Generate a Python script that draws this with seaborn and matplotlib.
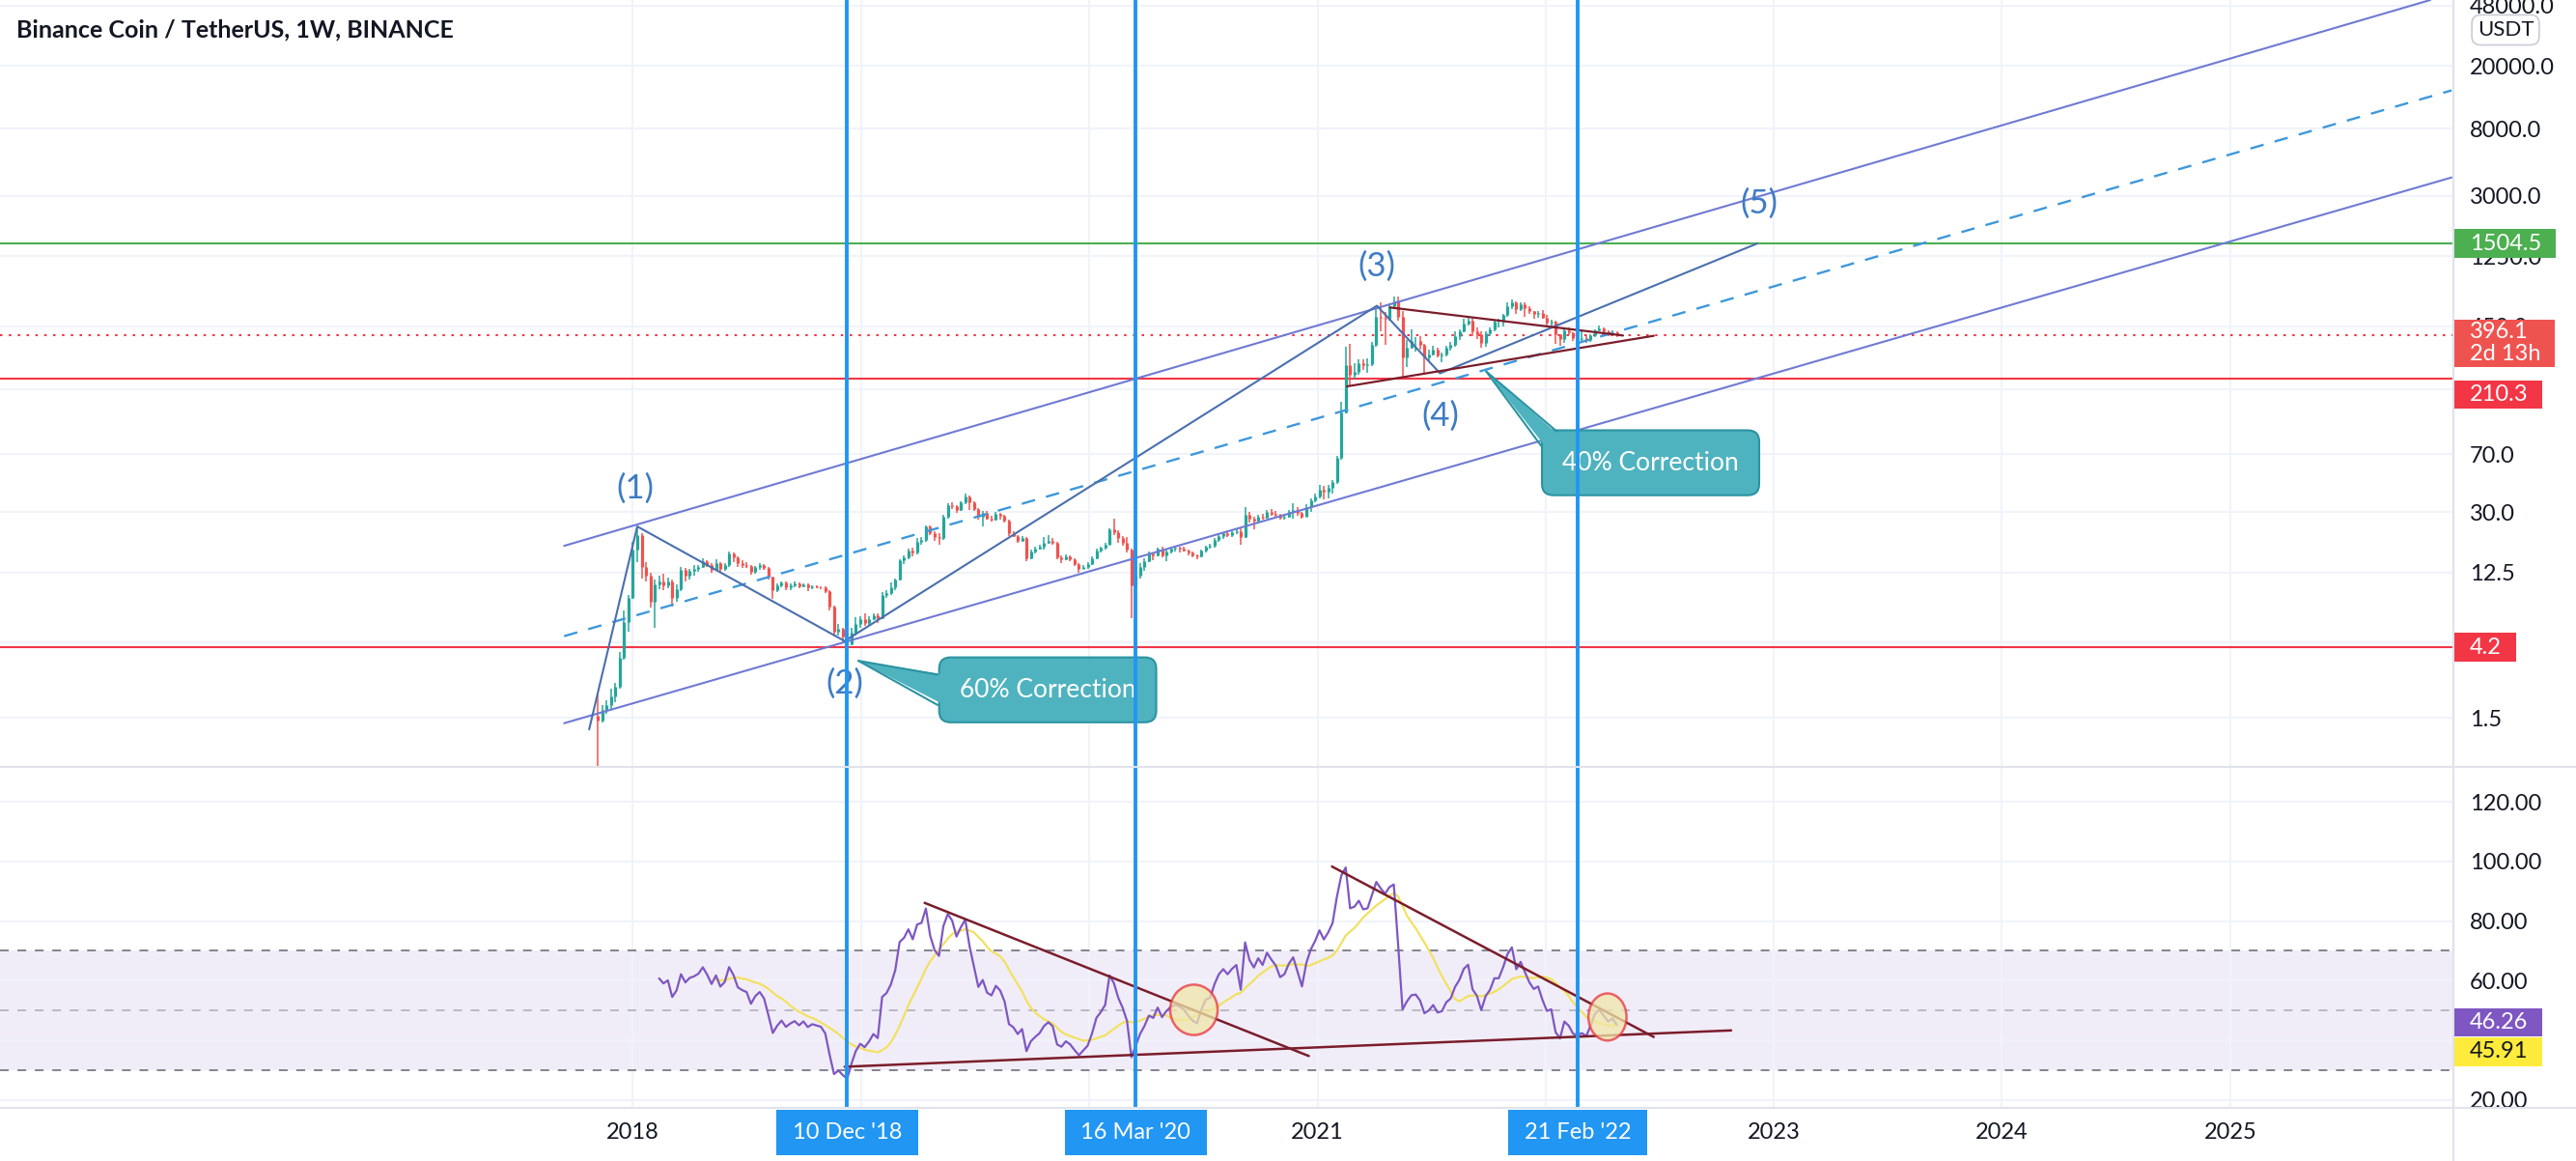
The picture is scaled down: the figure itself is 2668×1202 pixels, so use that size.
import numpy as np
import pandas as pd
import matplotlib
matplotlib.use("Agg")
import matplotlib.pyplot as plt
import matplotlib.dates as mdates
import matplotlib.ticker as mticker
from matplotlib.path import Path
from matplotlib.patches import Ellipse, Polygon
from matplotlib.lines import Line2D
import seaborn as sns

# weekly BNB/USDT candles, first bar on 2017-11-06
first_week = "2017-11-06"
first_open = 1.55
close = [1.45, 1.68, 1.80, 2.05, 2.35, 3.6, 6.1, 8.6,
         17.5, 21.5, 13.6, 12.0, 8.2, 10.5, 11.0, 10.3, 10.9, 8.6, 9.8, 13.0,
         11.9, 12.8, 13.1, 13.6, 14.8, 14.0, 13.0, 14.4, 13.2, 13.9, 16.4, 15.6,
         14.3, 14.0, 13.8, 12.6, 13.5, 14.0, 13.4, 11.7, 9.6, 10.3, 10.8, 10.1,
         10.4, 10.6, 10.2, 10.5, 10.0, 10.2, 10.1, 10.0, 9.5, 7.6, 5.3, 5.5,
         4.9, 4.4, 5.2, 5.9, 6.3,
         6.0, 6.3, 6.7, 6.4, 9.0, 9.3, 10.0, 11.3, 14.9, 15.6, 17.2, 16.6,
         19.6, 20.0, 24.3, 22.2, 21.0, 20.5, 28.2, 33.5, 32.8, 31.0, 34.5, 38.0,
         34.5, 31.5, 28.0, 29.8, 27.5, 27.0, 29.2, 28.4, 26.5, 22.0, 21.3, 19.8,
         20.6, 15.3, 16.9, 17.6, 18.2, 19.3, 19.9, 19.2, 15.6, 15.1, 15.8, 15.2,
         14.1, 13.1, 13.6, 14.1, 15.4, 17.2, 17.9, 18.8, 23.3, 22.4, 20.6, 19.3,
         17.4, 10.3, 11.9, 13.6, 14.8, 16.4, 16.0, 17.6, 16.1, 17.0, 17.6, 17.9,
         17.7, 17.3, 16.6, 16.0, 15.7, 17.1, 18.2, 18.4, 20.0, 21.3, 22.0, 21.6,
         22.3, 22.8, 20.9, 29.0, 27.2, 26.4, 28.3, 27.6, 30.2, 29.5, 28.9, 27.7,
         28.2, 30.0, 31.2, 29.8, 28.3, 32.5, 35.6, 38.0, 41.5, 40.5, 42.8, 46.5,
         66.0, 129.0, 257.0, 223.0, 231.0, 264.0, 256.0, 261.0, 345.0, 520.0, 510.0, 502.0,
         600.0, 650.0, 520.0, 288.0, 330.0, 362.0, 366.0, 342.0, 288.0, 300.0, 322.0, 293.0,
         298.0, 331.0, 345.0, 390.0, 420.0, 470.0, 490.0, 420.0, 400.0, 352.0, 405.0, 430.0,
         480.0, 480.0, 530.0, 600.0, 640.0, 580.0, 620.0, 590.0, 560.0, 540.0, 550.0, 510.0,
         475.0, 480.0, 400.0, 375.0, 425.0, 410.0, 380.0, 375.0, 380.0, 370.0, 395.0, 425.0,
         435.0, 420.0, 405.0, 412.0, 396.1]
high = [2.13, 1.80, 1.95, 2.30, 2.50, 3.90, 7.20, 9.00,
        19.5, 24.4, 22.0, 14.5, 12.5, 11.2, 12.0, 12.2, 11.6, 11.3, 10.5, 13.5,
        13.4, 13.1, 13.9, 14.0, 15.3, 15.0, 14.4, 15.2, 14.6, 14.3, 16.9, 16.8,
        15.9, 14.9, 14.5, 13.9, 13.8, 14.4, 14.1, 13.5, 11.8, 10.6, 11.0, 11.0,
        10.7, 10.9, 10.8, 10.7, 10.6, 10.4, 10.3, 10.2, 10.2, 9.6, 7.7, 5.9,
        5.6, 5.0, 5.6, 6.5, 6.6,
        6.9, 6.6, 6.9, 6.9, 9.4, 9.6, 10.8, 11.5, 15.2, 16.0, 17.6, 17.8,
        20.5, 21.0, 24.8, 24.9, 22.8, 22.0, 28.9, 34.0, 34.5, 33.5, 35.0, 39.6,
        38.5, 35.0, 32.0, 30.5, 30.5, 28.4, 30.0, 29.9, 28.8, 26.9, 22.7, 21.6,
        21.3, 20.8, 17.5, 18.2, 18.6, 20.8, 21.4, 20.5, 19.5, 16.0, 16.3, 16.0,
        15.4, 14.3, 14.0, 14.5, 15.9, 17.6, 18.3, 19.2, 23.7, 27.2, 23.0, 21.2,
        21.0, 17.6, 12.5, 14.4, 15.3, 16.9, 16.8, 18.0, 18.2, 17.4, 18.0, 18.3,
        18.1, 18.2, 17.5, 16.9, 16.3, 17.4, 18.5, 19.0, 20.5, 22.0, 22.6, 23.0,
        23.4, 23.6, 24.0, 32.4, 30.0, 28.0, 29.0, 29.3, 31.2, 31.6, 30.5, 29.5,
        29.4, 31.0, 34.0, 32.5, 30.3, 33.8, 36.5, 39.5, 44.5, 44.0, 44.6, 48.0,
        68.0, 150.0, 335.0, 348.0, 264.0, 280.0, 277.0, 284.0, 360.0, 600.0, 638.0, 557.0,
        625.0, 690.0, 691.0, 560.0, 370.0, 430.0, 385.0, 390.0, 350.0, 320.0, 340.0, 328.0,
        306.0, 340.0, 360.0, 420.0, 430.0, 500.0, 518.0, 510.0, 440.0, 420.0, 420.0, 440.0,
        490.0, 500.0, 540.0, 640.0, 669.0, 650.0, 640.0, 640.0, 600.0, 560.0, 565.0, 570.0,
        530.0, 495.0, 490.0, 400.0, 430.0, 440.0, 415.0, 395.0, 425.0, 395.0, 400.0, 430.0,
        455.0, 445.0, 425.0, 425.0, 420.0]
low = [0.60, 1.40, 1.60, 1.70, 1.90, 2.30, 3.50, 5.30,
       8.5, 14.5, 11.5, 11.0, 7.5, 5.6, 9.8, 9.6, 9.9, 7.6, 8.2, 9.5,
       11.0, 11.3, 12.0, 12.6, 13.3, 13.5, 12.4, 12.7, 12.5, 12.8, 13.6, 14.6,
       13.5, 13.4, 13.3, 12.1, 12.3, 13.0, 13.0, 11.2, 8.5, 9.4, 10.0, 9.7,
       9.6, 10.0, 9.9, 10.1, 9.5, 9.8, 9.9, 9.8, 9.3, 7.2, 4.9, 5.0,
       4.5, 4.2, 4.3, 5.0, 5.6,
       5.7, 5.8, 6.2, 6.0, 6.3, 8.6, 9.0, 9.7, 11.1, 14.2, 15.2, 15.9,
       16.3, 18.8, 19.5, 21.5, 19.9, 18.7, 20.0, 27.4, 31.5, 29.8, 30.6, 33.8,
       31.0, 30.5, 27.0, 24.5, 26.8, 26.3, 26.6, 26.9, 25.8, 21.3, 20.8, 19.3,
       19.5, 14.8, 15.1, 16.4, 17.4, 17.5, 19.0, 18.8, 15.2, 14.4, 14.9, 14.8,
       13.7, 12.5, 13.1, 13.2, 13.9, 15.2, 16.6, 17.5, 18.6, 21.5, 19.3, 18.5,
       16.7, 6.4, 9.4, 11.4, 12.8, 14.5, 14.9, 15.9, 15.6, 14.8, 16.5, 17.0,
       16.6, 16.9, 16.0, 15.6, 15.1, 15.5, 16.8, 17.7, 18.0, 19.5, 20.3, 20.8,
       21.0, 21.8, 18.6, 20.6, 25.8, 23.4, 26.0, 27.0, 27.3, 28.6, 27.6, 26.8,
       27.1, 27.7, 27.5, 28.6, 27.5, 28.2, 30.0, 34.8, 36.5, 36.0, 36.8, 39.5,
       45.2, 64.0, 126.0, 190.0, 210.0, 222.0, 239.0, 230.0, 253.0, 335.0, 420.0, 345.0,
       490.0, 580.0, 490.0, 211.0, 250.0, 325.0, 310.0, 320.0, 226.0, 270.0, 295.0, 285.0,
       265.0, 290.0, 318.0, 335.0, 370.0, 410.0, 455.0, 390.0, 375.0, 330.0, 335.0, 390.0,
       420.0, 445.0, 450.0, 520.0, 580.0, 540.0, 560.0, 520.0, 540.0, 500.0, 510.0, 500.0,
       445.0, 440.0, 350.0, 340.0, 355.0, 395.0, 365.0, 340.0, 365.0, 355.0, 360.0, 385.0,
       420.0, 405.0, 390.0, 395.0, 385.0]

# horizontal levels
level_green = 1504.5
levels_red = [210.3, 4.2]
last_price = 396.1
last_countdown = "2d 13h"
rsi_last_label = "46.26"
rsi_ma_last_label = "45.91"

# marked weeks
mark_dates = ["2018-12-10", "2020-03-16", "2022-02-21"]
mark_labels = ["10 Dec '18", "16 Mar '20", "21 Feb '22"]

# parallel channel
chan_upper_x = ["2017-09-13", "2025-11-17"]
chan_upper_y = [18.4, 52100]
chan_lower_x = ["2017-09-13", "2025-12-21"]
chan_lower_y = [1.39, 3930]
chan_mid_x = ["2017-09-13", "2025-12-21"]
chan_mid_y = [4.94, 13970]

# elliott count
wave_x = ["2017-10-23", "2018-01-08", "2018-12-06", "2021-04-06", "2021-07-16", "2022-12-06"]
wave_y = [1.27, 24.4, 4.6, 607, 227, 1504.5]
wave_names = ["(1)", "(2)", "(3)", "(4)", "(5)"]
wave_name_x = ["2018-01-04", "2018-12-06", "2021-04-05", "2021-07-17", "2022-12-08"]
wave_name_y = [42.6, 2.47, 1079, 122, 2679]

# triangle
tri_upper_x = ["2021-04-27", "2022-05-05"]
tri_upper_y = [592, 393.6]
tri_lower_x = ["2021-02-17", "2022-06-23"]
tri_lower_y = [187.6, 392]

# callouts
call_text = ["60% Correction", "40% Correction"]
call_x = ["2019-10-27", "2022-06-18"]
call_y = [2.26, 61.7]
tip_x = ["2018-12-28", "2021-09-28"]
tip_y = [3.45, 233]
base1_x = ["2019-05-04", "2021-12-25"]
base1_y = [2.82, 78.8]
base2_x = ["2019-05-04", "2022-01-19"]
base2_y = [1.81, 97.3]
inner1_x = ["2019-05-15", "2022-01-02"]
inner1_y = [2.82, 76.9]
inner2_x = ["2019-05-15", "2022-01-23"]
inner2_y = [1.81, 91.6]

# rsi trend lines and circles
rsi_tl_x0 = ["2018-12-06", "2019-04-13", "2021-01-24"]
rsi_tl_y0 = [31.1, 86.1, 98.3]
rsi_tl_x1 = ["2022-10-25", "2020-12-18", "2022-06-23"]
rsi_tl_y1 = [43.3, 34.7, 41.1]
ell_x = ["2020-06-17", "2022-04-10"]
ell_y = [50.2, 47.8]
ell_w_days = [76, 61]
ell_h = [16.9, 15.8]

price_ticks = [1.5, 4.5, 12.5, 30, 70, 180, 450, 1250, 3000, 8000, 20000, 48000]
price_ticks_hidden = [4.5, 180]
rsi_ticks = [20, 40, 60, 80, 100, 120]
rsi_ticks_hidden = [40]
year_ticks = [2018, 2019, 2020, 2021, 2022, 2023, 2024, 2025]
year_ticks_hidden = [2019, 2020, 2022]

# ---------------------------------------------------------------
UP, DOWN = "#26a69a", "#ef5350"
TXT = "#131722"
GRID = "#f0f3fa"
SEP = "#e0e3eb"
FS = 17

sns.set_theme(style="white")
plt.rcParams["font.family"] = ["Lato", "DejaVu Sans"]

W, H = 2668, 1202
fig = plt.figure(figsize=(W / 100, H / 100), dpi=100)
fig.patch.set_facecolor("white")
ax1 = fig.add_axes([0, 1 - 793 / H, 2541 / W, 793 / H])
ax2 = fig.add_axes([0, 1 - 1147 / H, 2541 / W, (1147 - 795) / H], sharex=ax1)

dates = pd.date_range(first_week, periods=len(close), freq="7D")
c = np.array(close)
o = np.concatenate([[first_open], c[:-1]])
hi = np.array(high)
lo = np.array(low)
col = np.where(c >= o, UP, DOWN)

ax1.vlines(dates, lo, hi, colors=col, linewidth=1.1, zorder=3)
ax1.vlines(dates, np.minimum(o, c), np.maximum(o, c), colors=col, linewidth=2.3, zorder=3)
ax1.set_yscale("log")
ax1.set_ylim(0.746, 52120)
ax1.set_xlim(pd.Timestamp("2015-03-25"), pd.Timestamp("2025-12-24"))

# levels
ax1.axhline(level_green, color="#4caf50", lw=1.5, zorder=2)
for lv in levels_red:
    ax1.axhline(lv, color="#f23645", lw=1.5, zorder=2)
ax1.axhline(last_price, color="#f23645", lw=1.5, ls=(0, (1.2, 3.2)), zorder=2)

# channel and waves
ax1.plot(pd.to_datetime(chan_upper_x), chan_upper_y, color="#6f7ad4", lw=1.5, zorder=4)
ax1.plot(pd.to_datetime(chan_lower_x), chan_lower_y, color="#6f7ad4", lw=1.5, zorder=4)
ax1.plot(pd.to_datetime(chan_mid_x), chan_mid_y, color="#3d98db", lw=1.7, ls=(0, (6, 5)), zorder=4)
ax1.plot(pd.to_datetime(wave_x), wave_y, color="#4a6fae", lw=1.5, zorder=4)
ax1.plot(pd.to_datetime(tri_upper_x), tri_upper_y, color="#7b1d2b", lw=1.6, zorder=4)
ax1.plot(pd.to_datetime(tri_lower_x), tri_lower_y, color="#7b1d2b", lw=1.6, zorder=4)
for name, x, y in zip(wave_names, wave_name_x, wave_name_y):
    ax1.text(pd.Timestamp(x), y, name, color="#3d7cc4", fontsize=25, ha="center", va="center", zorder=5)

# callouts
for i, txt in enumerate(call_text):
    ax1.text(pd.Timestamp(call_x[i]), call_y[i], txt, color="white", fontsize=19,
             ha="center", va="center", zorder=6,
             bbox=dict(boxstyle="round,pad=0.8,rounding_size=0.45", fc="#4fb3bf", ec="#2b93a1", lw=1.5))
    tri = [(mdates.date2num(pd.Timestamp(tip_x[i])), tip_y[i]),
           (mdates.date2num(pd.Timestamp(inner1_x[i])), inner1_y[i]),
           (mdates.date2num(pd.Timestamp(inner2_x[i])), inner2_y[i])]
    ax1.add_patch(Polygon(tri, closed=True, fc="#4fb3bf", ec="none", zorder=7))
    for bx, by in ((base1_x[i], base1_y[i]), (base2_x[i], base2_y[i])):
        ax1.plot(pd.to_datetime([tip_x[i], bx]), [tip_y[i], by], color="#2b93a1", lw=1.5, zorder=7)

# rsi panel
s = pd.Series(c, index=dates)
delta = s.diff()
gain = delta.clip(lower=0).ewm(alpha=1 / 14, adjust=False, min_periods=14).mean()
loss = (-delta.clip(upper=0)).ewm(alpha=1 / 14, adjust=False, min_periods=14).mean()
rsi = 100 - 100 / (1 + gain / loss)
rsi_ma = rsi.rolling(14).mean()
rsi_df = pd.DataFrame({"date": dates, "rsi": rsi.values, "ma": rsi_ma.values})

ax2.axhspan(30, 70, color="#7e57c2", alpha=0.1, lw=0, zorder=0)
ax2.axhline(70, color="#787b86", lw=1.3, ls=(0, (5, 5)), zorder=1)
ax2.axhline(50, color="#787b86", lw=1.3, ls=(0, (5, 5)), alpha=0.5, zorder=1)
ax2.axhline(30, color="#787b86", lw=1.3, ls=(0, (5, 5)), zorder=1)
sns.lineplot(data=rsi_df.dropna(subset=["ma"]), x="date", y="ma", ax=ax2, color="#f2e160", lw=1.6, zorder=3)
sns.lineplot(data=rsi_df.dropna(subset=["rsi"]), x="date", y="rsi", ax=ax2, color="#7e57c2", lw=1.6, zorder=4)
for i in range(len(rsi_tl_x0)):
    ax2.plot(pd.to_datetime([rsi_tl_x0[i], rsi_tl_x1[i]]), [rsi_tl_y0[i], rsi_tl_y1[i]],
             color="#7b1d2b", lw=1.8, zorder=5)
for i in range(len(ell_x)):
    ax2.add_patch(Ellipse((mdates.date2num(pd.Timestamp(ell_x[i])), ell_y[i]), ell_w_days[i], ell_h[i],
                          fc="#f0e6a8", alpha=0.75, ec="#e8333f", lw=1.8, zorder=6))
ax2.set_ylim(17.3, 131.4)
ax2.set_xlabel("")
ax2.set_ylabel("")

# vertical marks
for d in mark_dates:
    for ax in (ax1, ax2):
        ax.axvline(pd.Timestamp(d), color="#2196f3", lw=2.8, zorder=8)

# axes styling
for ax in (ax1, ax2):
    ax.set_facecolor("white")
    ax.yaxis.tick_right()
    ax.tick_params(axis="y", length=0, pad=12, labelsize=FS, labelcolor=TXT)
    ax.grid(True, color=GRID, lw=1.5, zorder=0)
    for side in ("top", "left", "bottom"):
        ax.spines[side].set_visible(False)
    ax.spines["right"].set_color(SEP)
    ax.spines["right"].set_linewidth(1.5)
    ax.set_axisbelow(True)

ax1.yaxis.set_major_locator(mticker.FixedLocator(price_ticks))
ax1.yaxis.set_minor_locator(mticker.NullLocator())
ax1.yaxis.set_major_formatter(mticker.FuncFormatter(
    lambda v, _: "" if any(abs(v - h) < 1e-6 for h in price_ticks_hidden) else f"{v:.1f}"))
ax2.yaxis.set_major_locator(mticker.FixedLocator(rsi_ticks))
ax2.yaxis.set_major_formatter(mticker.FuncFormatter(
    lambda v, _: "" if round(v) in rsi_ticks_hidden else f"{v:.2f}"))
ax2.xaxis.set_major_locator(mticker.FixedLocator(
    [mdates.date2num(pd.Timestamp(f"{y}-01-01")) for y in year_ticks]))
ax2.xaxis.set_major_formatter(mticker.FuncFormatter(
    lambda v, _: "" if mdates.num2date(v).year in year_ticks_hidden else str(mdates.num2date(v).year)))
ax2.tick_params(axis="x", length=0, pad=11, labelsize=FS, labelcolor=TXT)
ax1.tick_params(axis="x", labelbottom=False, length=0)


def tag_box(lpad, rpad, vpad):
    def box(x0, y0, width, height, mutation_size):
        l = x0 - lpad * mutation_size
        r = x0 + width + rpad * mutation_size
        b = y0 - vpad * mutation_size
        t = y0 + height + vpad * mutation_size
        return Path([(l, b), (r, b), (r, t), (l, t), (l, b)], closed=True)
    return box


def price_tag(ax, y, text, fc, tc="white", dy=0, vpad=0.18):
    ax.annotate(text, xy=(1, y), xycoords=("axes fraction", "data"),
                xytext=(0.72 * FS, dy), textcoords="offset points",
                ha="left", va="center", fontsize=FS, color=tc, zorder=20,
                annotation_clip=False, linespacing=1.1,
                bbox=dict(boxstyle=tag_box(0.72, 0.62, vpad), fc=fc, ec="none"))


price_tag(ax1, level_green, f"{level_green}", "#4caf50")
price_tag(ax1, last_price, f"{last_price}\n{last_countdown}", "#ef5350", dy=-6, vpad=0.12)
price_tag(ax1, levels_red[0], f"{levels_red[0]}", "#f23645", dy=-12)
price_tag(ax1, levels_red[1], f"{levels_red[1]}", "#f23645")
price_tag(ax2, rsi_df["rsi"].iloc[-1], rsi_last_label, "#7e57c2", dy=2)
price_tag(ax2, rsi_df["rsi"].iloc[-1], rsi_ma_last_label, "#ffeb3b", tc=TXT, dy=-20)

for d, lab in zip(mark_dates, mark_labels):
    ax2.annotate(lab, xy=(pd.Timestamp(d), 0), xycoords=("data", "axes fraction"),
                 xytext=(0, -18.5), textcoords="offset points", ha="center", va="center",
                 fontsize=FS, color="white", zorder=20, annotation_clip=False,
                 bbox=dict(boxstyle=tag_box(0.7, 0.7, 0.55), fc="#2196f3", ec="none"))

# separators, currency label, title
fig.add_artist(Line2D([0, 1], [1 - 794 / H] * 2, color=SEP, lw=1.5))
fig.add_artist(Line2D([0, 1], [1 - 1147 / H] * 2, color=SEP, lw=1.5))
fig.add_artist(Line2D([2541 / W] * 2, [0, 1], color=SEP, lw=1.5))
fig.text(2595 / W, 1 - 31 / H, "USDT", ha="center", va="center", fontsize=16, color=TXT,
         bbox=dict(boxstyle="round,pad=0.25,rounding_size=0.4", fc="white", ec="#c9ccd4", lw=1.2))
fig.text(17 / W, 1 - 31 / H, "Binance Coin / TetherUS, 1W, BINANCE", ha="left", va="center",
         fontsize=18, fontweight="bold", color=TXT)

fig.savefig("out.png", dpi=100, facecolor="white")
